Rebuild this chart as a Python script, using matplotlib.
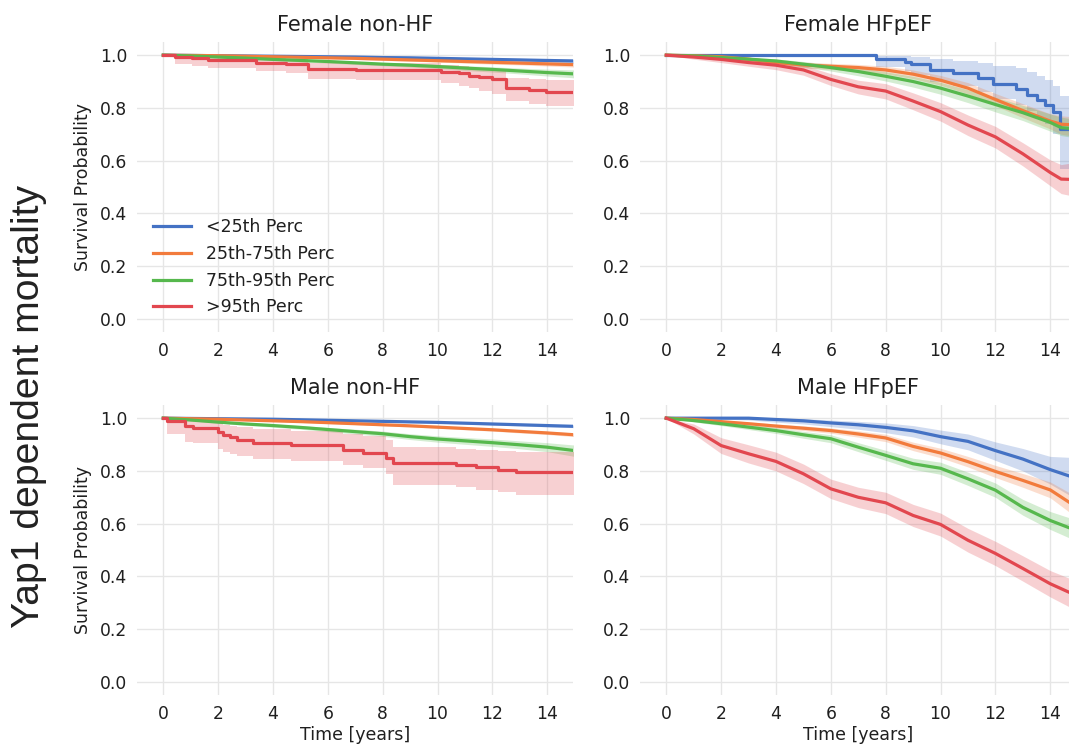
import matplotlib
matplotlib.use("Agg")
import matplotlib.pyplot as plt

# ---------------- data ----------------
LABELS = ["<25th Perc", "25th-75th Perc", "75th-95th Perc", ">95th Perc"]
COLORS = ["#4472c4", "#f27b3c", "#56b84d", "#e2474f"]
TITLES = ["Female non-HF", "Female HFpEF", "Male non-HF", "Male HFpEF"]
XTICKS = [0, 2, 4, 6, 8, 10, 12, 14]
YTICKS = [0.0, 0.2, 0.4, 0.6, 0.8, 1.0]

YEARS = [0, 1, 2, 3, 4, 5, 6, 7, 8, 9, 10, 11, 12, 13, 14, 15]

# Female non-HF
FN_BLUE = [1.0, 0.999, 0.998, 0.997, 0.996, 0.995, 0.994, 0.993, 0.991, 0.99, 0.988, 0.986, 0.984, 0.982, 0.98, 0.978]
FN_BLUE_LO = [1.0, 0.998, 0.996, 0.994, 0.993, 0.991, 0.99, 0.988, 0.986, 0.984, 0.982, 0.979, 0.977, 0.975, 0.972, 0.97]
FN_BLUE_HI = [1.0, 1.0, 0.999, 0.999, 0.998, 0.998, 0.997, 0.996, 0.995, 0.994, 0.993, 0.991, 0.99, 0.988, 0.986, 0.985]
FN_ORANGE = [1.0, 0.999, 0.998, 0.996, 0.994, 0.992, 0.99, 0.988, 0.985, 0.982, 0.979, 0.976, 0.973, 0.97, 0.967, 0.964]
FN_ORANGE_LO = [1.0, 0.998, 0.996, 0.994, 0.991, 0.989, 0.986, 0.984, 0.98, 0.977, 0.974, 0.97, 0.966, 0.963, 0.959, 0.955]
FN_ORANGE_HI = [1.0, 1.0, 0.999, 0.998, 0.996, 0.995, 0.993, 0.992, 0.989, 0.987, 0.984, 0.981, 0.979, 0.976, 0.974, 0.972]
FN_GREEN = [1.0, 0.997, 0.993, 0.989, 0.984, 0.98, 0.976, 0.971, 0.966, 0.962, 0.957, 0.951, 0.946, 0.94, 0.934, 0.929]
FN_GREEN_LO = [1.0, 0.995, 0.99, 0.985, 0.98, 0.975, 0.97, 0.965, 0.96, 0.955, 0.949, 0.942, 0.936, 0.929, 0.921, 0.914]
FN_GREEN_HI = [1.0, 0.999, 0.996, 0.993, 0.988, 0.985, 0.982, 0.977, 0.972, 0.969, 0.965, 0.96, 0.956, 0.951, 0.947, 0.944]
FN_RED_T = [0, 0.42, 1.03, 1.64, 3.39, 4.48, 5.27, 7.03, 10.12, 10.79, 11.15, 11.52, 12.0, 12.48, 13.33, 13.94, 15]
FN_RED = [1.0, 0.994, 0.988, 0.981, 0.971, 0.966, 0.946, 0.944, 0.935, 0.931, 0.921, 0.916, 0.909, 0.875, 0.869, 0.862, 0.86]
FN_RED_LO = [1.0, 0.966, 0.96, 0.953, 0.94, 0.933, 0.908, 0.905, 0.893, 0.885, 0.874, 0.866, 0.853, 0.826, 0.815, 0.806, 0.806]
FN_RED_HI = [1.0, 1.0, 0.999, 0.996, 0.99, 0.986, 0.972, 0.97, 0.962, 0.96, 0.952, 0.948, 0.943, 0.915, 0.91, 0.905, 0.905]

# Female HFpEF
FH_T = [0, 1, 2, 3, 4, 5, 6, 7, 8, 9, 10, 11, 12, 13, 14, 14.4, 15]
FH_BLUE_T = [0, 7.66, 8.7, 8.94, 9.6, 10.45, 11.38, 11.9, 12.75, 13.15, 13.5, 13.8, 14.1, 14.35, 15]
FH_BLUE = [1.0, 0.987, 0.975, 0.965, 0.944, 0.932, 0.912, 0.89, 0.87, 0.85, 0.83, 0.81, 0.785, 0.72, 0.72]
FH_BLUE_LO = [1.0, 0.955, 0.94, 0.925, 0.9, 0.885, 0.86, 0.835, 0.81, 0.79, 0.765, 0.74, 0.7, 0.57, 0.56]
FH_BLUE_HI = [1.0, 0.998, 0.996, 0.993, 0.985, 0.978, 0.97, 0.96, 0.95, 0.935, 0.92, 0.905, 0.885, 0.845, 0.84]
FH_ORANGE = [1.0, 0.998, 0.994, 0.985, 0.972, 0.963, 0.958, 0.953, 0.944, 0.928, 0.905, 0.875, 0.832, 0.79, 0.75, 0.738, 0.735]
FH_ORANGE_LO = [1.0, 0.995, 0.988, 0.977, 0.963, 0.952, 0.946, 0.94, 0.929, 0.911, 0.886, 0.853, 0.808, 0.763, 0.72, 0.7, 0.69]
FH_ORANGE_HI = [1.0, 1.0, 0.998, 0.992, 0.981, 0.973, 0.969, 0.965, 0.958, 0.944, 0.923, 0.896, 0.855, 0.816, 0.778, 0.77, 0.765]
FH_GREEN = [1.0, 0.997, 0.991, 0.985, 0.978, 0.966, 0.953, 0.938, 0.92, 0.9, 0.875, 0.845, 0.813, 0.782, 0.745, 0.725, 0.72]
FH_GREEN_LO = [1.0, 0.994, 0.986, 0.978, 0.969, 0.955, 0.94, 0.922, 0.902, 0.879, 0.852, 0.82, 0.785, 0.752, 0.712, 0.695, 0.685]
FH_GREEN_HI = [1.0, 0.999, 0.995, 0.991, 0.986, 0.976, 0.965, 0.953, 0.937, 0.92, 0.897, 0.869, 0.84, 0.81, 0.777, 0.765, 0.755]
FH_RED = [1.0, 0.993, 0.984, 0.972, 0.962, 0.944, 0.908, 0.88, 0.864, 0.826, 0.786, 0.735, 0.69, 0.626, 0.555, 0.53, 0.528]
FH_RED_LO = [1.0, 0.985, 0.972, 0.958, 0.945, 0.924, 0.885, 0.853, 0.834, 0.793, 0.75, 0.695, 0.648, 0.58, 0.505, 0.475, 0.462]
FH_RED_HI = [1.0, 0.998, 0.993, 0.985, 0.977, 0.962, 0.93, 0.905, 0.892, 0.857, 0.82, 0.773, 0.73, 0.668, 0.603, 0.585, 0.595]

# Male non-HF
MN_BLUE = [1.0, 0.999, 0.998, 0.997, 0.996, 0.994, 0.992, 0.99, 0.988, 0.986, 0.984, 0.981, 0.978, 0.975, 0.972, 0.969]
MN_BLUE_LO = [1.0, 0.998, 0.997, 0.996, 0.994, 0.992, 0.99, 0.988, 0.985, 0.983, 0.981, 0.978, 0.974, 0.971, 0.967, 0.964]
MN_BLUE_HI = [1.0, 1.0, 0.999, 0.998, 0.998, 0.996, 0.994, 0.992, 0.991, 0.989, 0.987, 0.984, 0.982, 0.979, 0.977, 0.974]
MN_ORANGE = [1.0, 0.998, 0.996, 0.993, 0.99, 0.987, 0.983, 0.979, 0.975, 0.971, 0.966, 0.961, 0.956, 0.95, 0.944, 0.937]
MN_ORANGE_LO = [1.0, 0.997, 0.995, 0.991, 0.988, 0.984, 0.98, 0.976, 0.971, 0.967, 0.962, 0.956, 0.951, 0.944, 0.938, 0.93]
MN_ORANGE_HI = [1.0, 0.999, 0.997, 0.995, 0.992, 0.99, 0.986, 0.982, 0.979, 0.975, 0.97, 0.966, 0.961, 0.956, 0.95, 0.944]
MN_GREEN = [1.0, 0.993, 0.985, 0.978, 0.972, 0.965, 0.957, 0.949, 0.941, 0.93, 0.921, 0.914, 0.907, 0.899, 0.89, 0.877]
MN_GREEN_LO = [1.0, 0.99, 0.981, 0.973, 0.966, 0.958, 0.949, 0.94, 0.931, 0.919, 0.909, 0.901, 0.893, 0.884, 0.873, 0.855]
MN_GREEN_HI = [1.0, 0.996, 0.989, 0.983, 0.978, 0.972, 0.965, 0.958, 0.951, 0.941, 0.933, 0.927, 0.921, 0.914, 0.907, 0.898]
MN_RED_T = [0, 0.12, 0.79, 1.09, 2.0, 2.18, 2.42, 2.67, 3.27, 4.67, 6.55, 7.27, 8.12, 8.36, 10.67, 11.4, 12.2, 12.85, 15]
MN_RED = [1.0, 0.991, 0.969, 0.962, 0.947, 0.935, 0.928, 0.918, 0.906, 0.897, 0.88, 0.869, 0.849, 0.831, 0.821, 0.815, 0.805, 0.796, 0.796]
MN_RED_LO = [1.0, 0.94, 0.91, 0.905, 0.885, 0.872, 0.863, 0.855, 0.847, 0.838, 0.822, 0.81, 0.79, 0.746, 0.74, 0.727, 0.72, 0.708, 0.708]
MN_RED_HI = [1.0, 1.0, 0.995, 0.99, 0.982, 0.975, 0.97, 0.965, 0.958, 0.952, 0.94, 0.932, 0.918, 0.89, 0.885, 0.88, 0.875, 0.87, 0.87]

# Male HFpEF
MH_BLUE = [1.0, 1.0, 1.0, 1.0, 0.995, 0.99, 0.982, 0.975, 0.965, 0.952, 0.93, 0.912, 0.877, 0.845, 0.805, 0.77]
MH_BLUE_LO = [1.0, 1.0, 0.997, 0.993, 0.985, 0.978, 0.968, 0.958, 0.945, 0.929, 0.903, 0.88, 0.84, 0.8, 0.75, 0.69]
MH_BLUE_HI = [1.0, 1.0, 1.0, 1.0, 1.0, 0.998, 0.993, 0.988, 0.982, 0.972, 0.955, 0.94, 0.91, 0.885, 0.855, 0.85]
MH_ORANGE = [1.0, 0.995, 0.987, 0.979, 0.97, 0.962, 0.953, 0.94, 0.925, 0.893, 0.868, 0.835, 0.798, 0.764, 0.728, 0.66]
MH_ORANGE_LO = [1.0, 0.992, 0.982, 0.972, 0.962, 0.953, 0.943, 0.928, 0.911, 0.877, 0.85, 0.815, 0.775, 0.738, 0.698, 0.62]
MH_ORANGE_HI = [1.0, 0.998, 0.992, 0.986, 0.978, 0.971, 0.963, 0.952, 0.939, 0.909, 0.886, 0.855, 0.821, 0.79, 0.758, 0.7]
MH_GREEN = [1.0, 0.991, 0.979, 0.966, 0.953, 0.937, 0.922, 0.89, 0.859, 0.827, 0.81, 0.77, 0.727, 0.662, 0.612, 0.572]
MH_GREEN_LO = [1.0, 0.986, 0.972, 0.957, 0.942, 0.924, 0.907, 0.873, 0.84, 0.806, 0.787, 0.745, 0.7, 0.632, 0.578, 0.532]
MH_GREEN_HI = [1.0, 0.995, 0.986, 0.975, 0.964, 0.95, 0.937, 0.907, 0.878, 0.848, 0.833, 0.795, 0.754, 0.692, 0.646, 0.612]
MH_RED = [1.0, 0.96, 0.896, 0.865, 0.836, 0.789, 0.732, 0.7, 0.679, 0.631, 0.597, 0.537, 0.487, 0.43, 0.372, 0.325]
MH_RED_LO = [1.0, 0.94, 0.866, 0.83, 0.8, 0.752, 0.695, 0.661, 0.638, 0.589, 0.553, 0.492, 0.441, 0.382, 0.322, 0.268]
MH_RED_HI = [1.0, 0.978, 0.926, 0.899, 0.871, 0.826, 0.769, 0.738, 0.719, 0.673, 0.64, 0.582, 0.533, 0.478, 0.422, 0.38]

# (time, surv, lower, upper, stepped) per group, per panel
PANELS = [
    [(YEARS, FN_BLUE, FN_BLUE_LO, FN_BLUE_HI, False),
     (YEARS, FN_ORANGE, FN_ORANGE_LO, FN_ORANGE_HI, False),
     (YEARS, FN_GREEN, FN_GREEN_LO, FN_GREEN_HI, False),
     (FN_RED_T, FN_RED, FN_RED_LO, FN_RED_HI, True)],
    [(FH_BLUE_T, FH_BLUE, FH_BLUE_LO, FH_BLUE_HI, True),
     (FH_T, FH_ORANGE, FH_ORANGE_LO, FH_ORANGE_HI, False),
     (FH_T, FH_GREEN, FH_GREEN_LO, FH_GREEN_HI, False),
     (FH_T, FH_RED, FH_RED_LO, FH_RED_HI, False)],
    [(YEARS, MN_BLUE, MN_BLUE_LO, MN_BLUE_HI, False),
     (YEARS, MN_ORANGE, MN_ORANGE_LO, MN_ORANGE_HI, False),
     (YEARS, MN_GREEN, MN_GREEN_LO, MN_GREEN_HI, False),
     (MN_RED_T, MN_RED, MN_RED_LO, MN_RED_HI, True)],
    [(YEARS, MH_BLUE, MH_BLUE_LO, MH_BLUE_HI, False),
     (YEARS, MH_ORANGE, MH_ORANGE_LO, MH_ORANGE_HI, False),
     (YEARS, MH_GREEN, MH_GREEN_LO, MH_GREEN_HI, False),
     (YEARS, MH_RED, MH_RED_LO, MH_RED_HI, False)],
]

# ---------------- drawing ----------------
plt.rcParams['font.family'] = ['DejaVu Sans']
TXT = '#1f1f1f'
FW, FH = 1069, 744
fig = plt.figure(figsize=(FW / 100, FH / 100), dpi=100)
fig.patch.set_facecolor('white')

aw, ah = 436 / FW, 290 / FH
lefts = [137 / FW, 640 / FW]
bottoms = [(FH - 332) / FH, (FH - 695) / FH]

for i, groups in enumerate(PANELS):
    r, c = divmod(i, 2)
    ax = fig.add_axes([lefts[c], bottoms[r], aw, ah])
    ax.set_facecolor('white')
    for spine in ax.spines.values():
        spine.set_visible(False)
    ax.grid(True, color='#e6e6e6', linewidth=1.0)
    ax.set_axisbelow(True)
    for (t, s, lo, hi, stepped), col, lab in zip(groups, COLORS, LABELS):
        if stepped:
            ax.fill_between(t, lo, hi, step='post', color=col, alpha=0.25, linewidth=0)
            ax.plot(t, s, drawstyle='steps-post', color=col, lw=2.3, label=lab)
        else:
            ax.fill_between(t, lo, hi, color=col, alpha=0.25, linewidth=0)
            ax.plot(t, s, color=col, lw=2.3, label=lab)
    ax.set_xlim(-0.96, 14.94)
    ax.set_ylim(-0.05, 1.05)
    ax.set_xticks(XTICKS)
    ax.set_yticks(YTICKS)
    ax.set_yticklabels([f"{v:.1f}" for v in YTICKS])
    ax.tick_params(axis='both', length=0, labelsize=12.3, colors=TXT, pad=7)
    ax.set_title(TITLES[i], fontsize=15, color=TXT, pad=8)
    if c == 0:
        ax.set_ylabel("Survival Probability", fontsize=12.5, color=TXT, labelpad=6)
    if r == 1:
        ax.set_xlabel("Time [years]", fontsize=12.5, color=TXT, labelpad=2)
    if i == 0:
        leg = ax.legend(loc='lower left', frameon=False, fontsize=12.5,
                        handlelength=2.2, handletextpad=0.85, labelspacing=0.5,
                        borderaxespad=0.5)
        for txt in leg.get_texts():
            txt.set_color(TXT)

fig.text(29 / FW, (FH - 406) / FH, "Yap1 dependent mortality", rotation=90,
         ha='center', va='center', fontsize=28.2, color='#222222',
         family=['Liberation Sans', 'DejaVu Sans'])

fig.savefig('out.png', dpi=100, facecolor='white')
